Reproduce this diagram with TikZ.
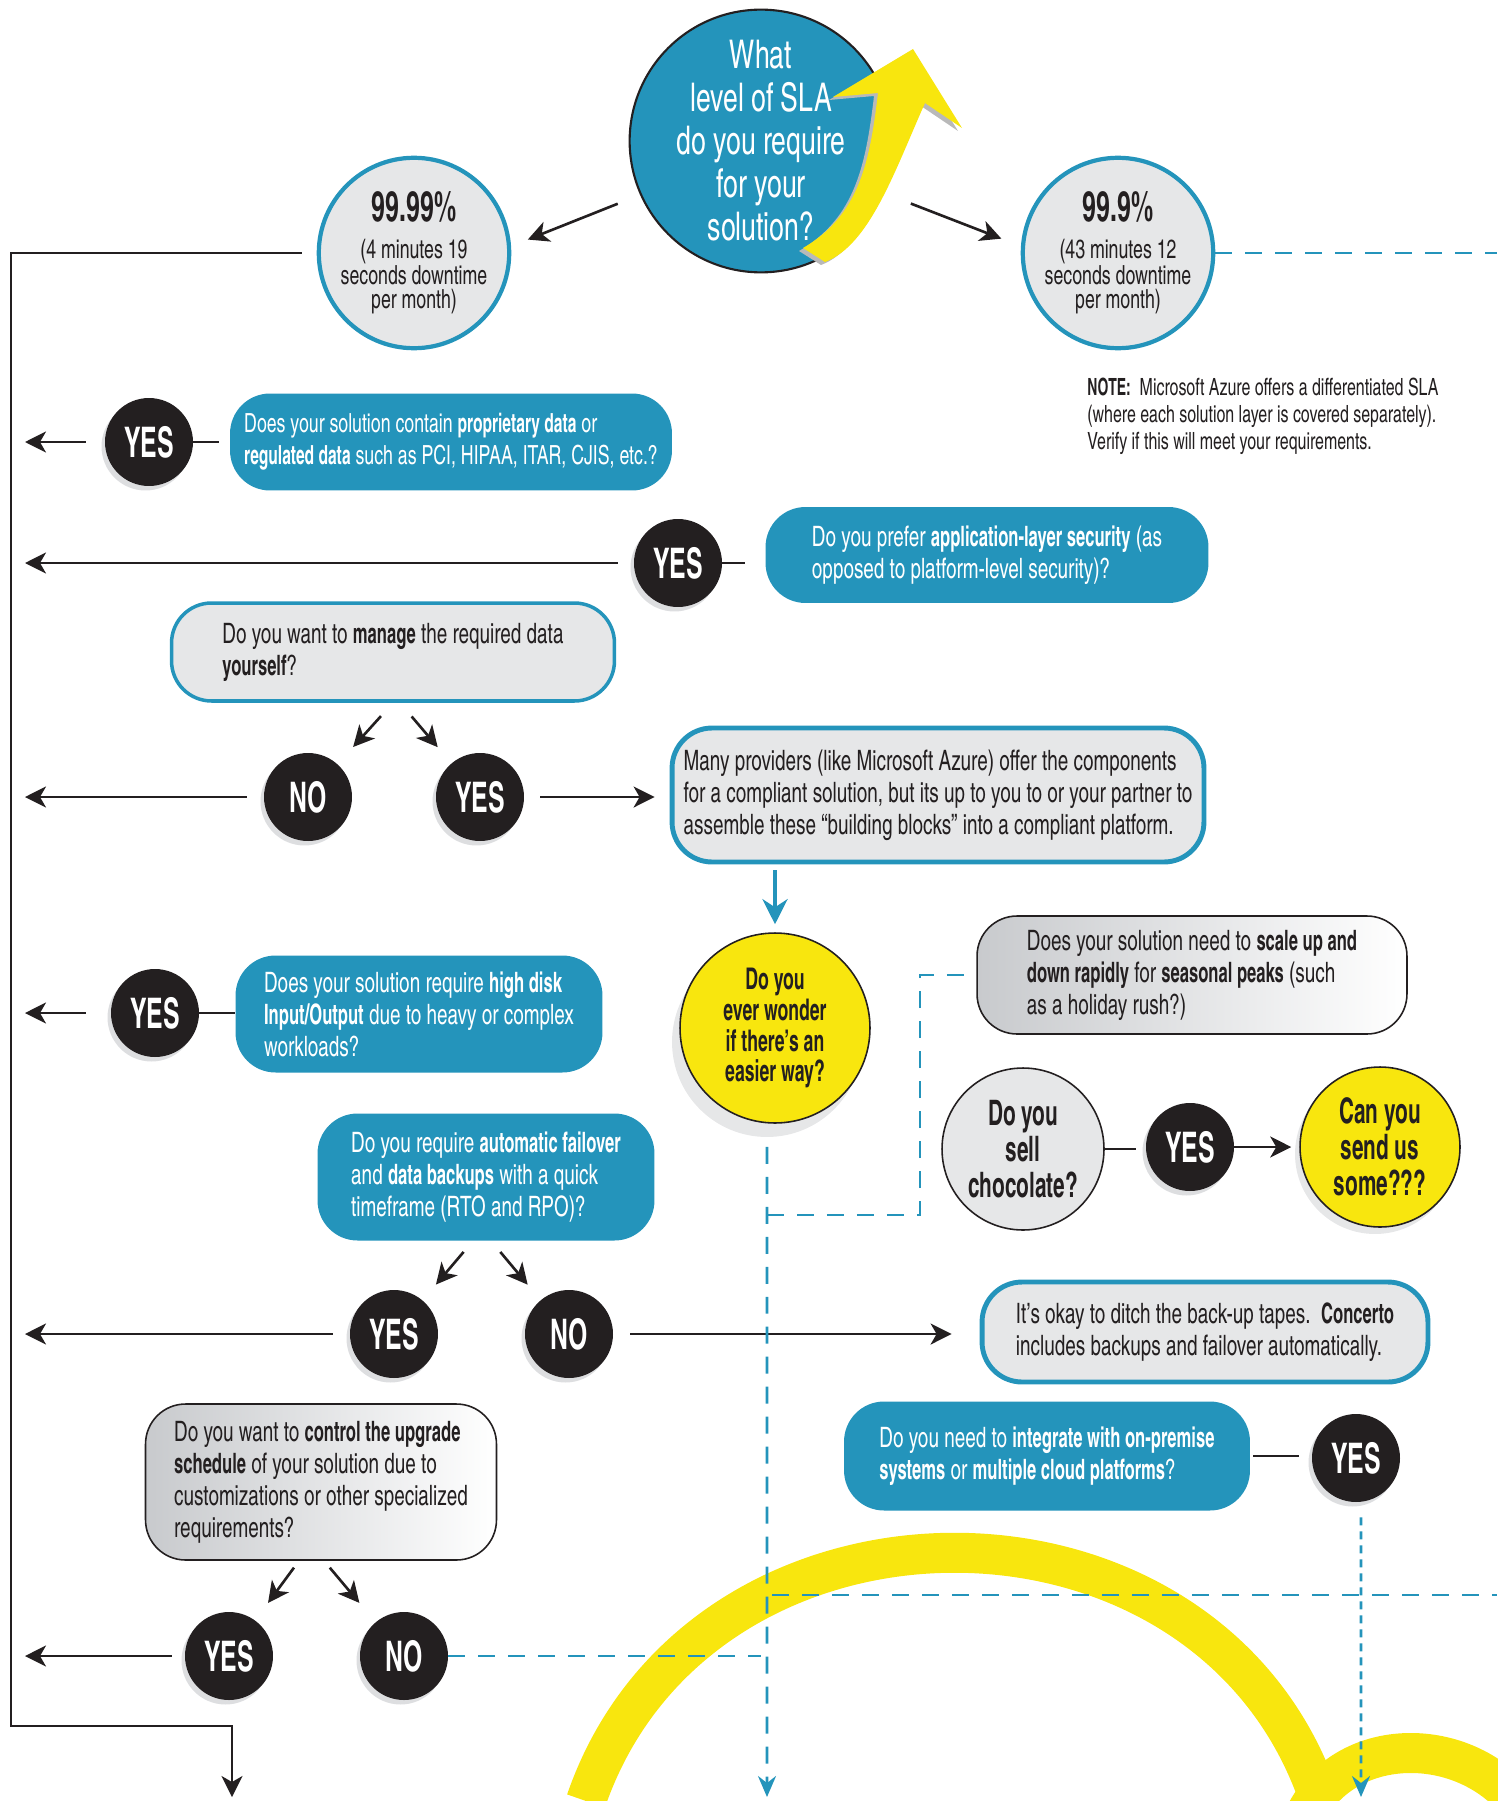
\documentclass[tikz,border=0pt]{standalone}
\usepackage{fontspec}
\setmainfont{texgyreheroscn}[Extension=.otf, UprightFont=*-regular, BoldFont=*-bold, ItalicFont=*-italic, BoldItalicFont=*-bolditalic,
  UprightFeatures={FakeStretch=0.82}, BoldFeatures={FakeStretch=0.72}]
\newfontfamily\dispfont{texgyreheroscn}[Extension=.otf, UprightFont=*-regular, BoldFont=*-bold, FakeStretch=0.72]
\usetikzlibrary{arrows.meta,shadows,calc}
\definecolor{cblue}{RGB}{36,148,187}
\definecolor{ink}{RGB}{35,31,32}
\definecolor{paper}{RGB}{230,231,232}
\definecolor{shade}{RGB}{221,222,224}
\definecolor{sun}{RGB}{248,230,14}
\definecolor{fog}{RGB}{200,202,205}
\tikzset{
  conn/.style={draw=ink, line width=1.5pt, -{Stealth[length=0.42cm, width=0.42cm, inset=0.12cm]}},
  stub/.style={draw=ink, line width=1.5pt},
  bluedash/.style={draw=cblue, line width=1.6pt, dash pattern=on 0.34cm off 0.26cm},
  bluedot/.style={draw=cblue, line width=1.6pt, dash pattern=on 0.16cm off 0.12cm},
  bluetip/.style={-{Stealth[length=0.42cm, width=0.36cm, inset=0.14cm]}},
  ansyes/.style={circle, fill=ink, text=white, minimum size=1.76cm, inner sep=0pt,
    font=\dispfont\fontsize{24}{24}\selectfont\bfseries,
    drop shadow={shadow xshift=-0.07cm, shadow yshift=-0.09cm, fill=shade, opacity=1}},
  qbox/.style={rounded corners=0.8cm, align=left, inner sep=0pt, font=\fontsize{16}{18.2}\selectfont},
  bluebox/.style={qbox, fill=cblue, text=white},
  ringbox/.style={qbox, fill=paper, draw=cblue, line width=2.6pt, text=ink},
  fadebox/.style={qbox, left color=fog, right color=white, draw=ink, line width=0.9pt, text=ink},
  slacircle/.style={circle, fill=paper, draw=cblue, line width=2.4pt, minimum size=3.8cm, inner sep=0pt,
    align=center, text=ink, font=\fontsize{15}{13.8}\selectfont},
  sunny/.style={circle, fill=sun, draw=ink, line width=0.9pt, align=center, inner sep=0pt, text=ink},
}
\begin{document}
\begin{tikzpicture}[x=0.02cm, y=-0.02cm]
\useasboundingbox (0,0) rectangle (1497,1801);
% yellow arches in the back
\draw[sun, line width=0.8cm] (586,1801) .. controls (700,1470) and (1210,1470) .. (1320,1801);
\draw[sun, line width=0.8cm] (1305,1815) .. controls (1345,1735) and (1460,1735) .. (1515,1800);

% top question
\node[circle, fill=cblue, draw=ink, line width=1.2pt, minimum size=5.2cm, inner sep=0pt, align=center,
  text=white, font=\fontsize{22.5}{24.5}\selectfont] (sla) at (761,141)
  {What\\ level of SLA\\ do you require\\ for your\\ solution?};
\fill[gray!55, xshift=-0.08cm, yshift=-0.06cm] (913,49) -- (833,97) -- (878,93) .. controls (870,160) and (860,215) .. (803,248)
  -- (825,262) .. controls (870,245) and (895,170) .. (925,103) -- (962,128) -- cycle;
\fill[sun] (913,49) -- (833,97) -- (878,93) .. controls (870,160) and (860,215) .. (803,248)
  -- (825,262) .. controls (870,245) and (895,170) .. (925,103) -- (962,128) -- cycle;

\node[slacircle] (c9999) at (414,253) {{\fontsize{24}{24}\selectfont\bfseries 99.99\%}\\[7pt] (4 minutes 19\\ seconds downtime\\ per month)};
\node[slacircle] (c999) at (1118,253) {{\fontsize{24}{24}\selectfont\bfseries 99.9\%}\\[7pt] (43 minutes 12\\ seconds downtime\\ per month)};
\node[anchor=north west, align=left, inner sep=0pt, text=ink, font=\fontsize{13.5}{15.3}\selectfont] (note) at (1087,378)
  {\textbf{NOTE:}\ \ Microsoft Azure offers a differentiated SLA\\ (where each solution layer is covered separately).\\ Verify if this will meet your requirements.};

% questions and answers
\node[ansyes] (yes1) at (149,442) {YES};
\node[bluebox, minimum width=8.84cm, minimum height=1.94cm, font=\fontsize{15}{18.2}\selectfont] (q1) at (451,442)
  {Does your solution contain \textbf{proprietary data} or\\ \textbf{regulated data} such as PCI, HIPAA, ITAR, CJIS, etc.?};
\node[ansyes] (yes2) at (678,563) {YES};
\node[bluebox, minimum width=8.86cm, minimum height=1.92cm] (q2) at (987,555)
  {Do you prefer \textbf{application-layer security} (as\\ opposed to platform-level security)?};
\node[ringbox, line width=2pt, minimum width=8.86cm, minimum height=1.96cm] (q3) at (393,652)
  {Do you want to \textbf{manage} the required data\\ \textbf{yourself}?};
\node[ansyes] (no3) at (308,797) {NO};
\node[ansyes] (yes3) at (480,797) {YES};
\node[ringbox, line width=2.8pt, minimum width=10.64cm, minimum height=2.68cm] (many) at (938,795)
  {Many providers (like Microsoft Azure) offer the components\\ for a compliant solution, but its up to you to or your partner to\\ assemble these “building blocks” into a compliant platform.};
\node[sunny, minimum size=3.8cm, font=\fontsize{17}{17.6}\selectfont\bfseries,
  drop shadow={shadow xshift=-0.16cm, shadow yshift=-0.28cm, fill=paper, opacity=1}] (easy) at (775,1028)
  {Do you\\ ever wonder\\ if there’s an\\ easier way?};
\node[fadebox, minimum width=8.6cm, minimum height=2.36cm] (scale) at (1192,975)
  {Does your solution need to \textbf{scale up and}\\ \textbf{down rapidly} for \textbf{seasonal peaks} (such\\ as a holiday rush?)};
\node[circle, fill=paper, draw=ink, line width=0.9pt, minimum size=3.24cm, inner sep=0pt, align=center, text=ink,
  font=\dispfont\fontsize{20}{20.5}\selectfont\bfseries] (choc) at (1023,1149) {Do you\\ sell\\ chocolate?};
\node[ansyes] (yes6) at (1190,1147) {YES};
\node[sunny, minimum size=3.2cm, font=\dispfont\fontsize{20}{20.5}\selectfont\bfseries,
  drop shadow={shadow xshift=-0.1cm, shadow yshift=-0.14cm, fill=paper, opacity=1}] (can) at (1380,1147)
  {Can you\\ send us\\ some???};
\node[ansyes] (yes4) at (155,1013) {YES};
\node[bluebox, minimum width=7.34cm, minimum height=2.34cm] (q6) at (419,1014)
  {Does your solution require \textbf{high disk}\\ \textbf{Input/Output} due to heavy or complex\\ workloads?};
\node[bluebox, minimum width=6.74cm, minimum height=2.54cm] (q7) at (486,1177)
  {Do you require \textbf{automatic failover}\\ and \textbf{data backups} with a quick\\ timeframe (RTO and RPO)?};
\node[ansyes] (yes5) at (394,1334) {YES};
\node[ansyes] (no5) at (569,1334) {NO};
\node[ringbox, line width=2.8pt, minimum width=8.92cm, minimum height=2cm] (ditch) at (1205,1332)
  {It’s okay to ditch the back-up tapes.\ \ \textbf{Concerto}\\ includes backups and failover automatically.};
\node[bluebox, minimum width=8.12cm, minimum height=2.18cm] (q9) at (1047,1456)
  {Do you need to \textbf{integrate with on-premise}\\ \textbf{systems} or \textbf{multiple cloud platforms}?};
\node[ansyes] (yes7) at (1356,1458) {YES};
\node[fadebox, minimum width=7.02cm, minimum height=3.12cm] (q10) at (321,1482)
  {Do you want to \textbf{control the upgrade}\\ \textbf{schedule} of your solution due to\\ customizations or other specialized\\ requirements?};
\node[ansyes] (yes8) at (229,1656) {YES};
\node[ansyes] (no8) at (404,1656) {NO};

\coordinate (tipl) at (25,0);
\coordinate (bustop) at (11,253);
\coordinate (busbot) at (11,1726);
\coordinate (busend) at (232,1797);
\coordinate (redge) at (1497,0);
\coordinate (dvend) at (767,1797);
\coordinate (branch) at (767,1215);
\coordinate (kink) at (920,975);
\coordinate (cross) at (767,1595);
\coordinate (dv2end) at (1361,1797);

% connectors
\draw[conn, shorten <=0.48cm, shorten >=0.36cm] (sla.204) -- (c9999.4);
\draw[conn, shorten <=0.6cm, shorten >=0.42cm] (sla.337) -- (c999.176);
\draw[conn, shorten <=0.3cm] (c9999.west) -- (bustop) -- (busbot) -| (busend);
\draw[bluedash] (c999.east) -- (c999.east -| redge);

\draw[conn, shorten <=0.38cm] (yes1.west) -- (yes1 -| tipl);
\draw[stub, shorten >=0.22cm] (yes1.east) -- (yes1 -| q1.west);
\draw[conn, shorten <=0.32cm] (yes2.west) -- (yes2 -| tipl);
\draw[stub, shorten >=0.4cm] (yes2.east) -- (yes2 -| q2.west);
\draw[conn, shorten <=0.36cm, shorten >=0.46cm] (q3.south) -- (no3);
\draw[conn, shorten <=0.36cm, shorten >=0.42cm] ([xshift=0.14cm]q3.south) -- (yes3);
\draw[conn, shorten <=0.34cm] (no3.west) -- (no3 -| tipl);
\draw[conn, shorten <=0.32cm, shorten >=0.3cm] (yes3.east) -- (yes3 -| many.west);
\draw[draw=cblue, line width=2.6pt, -{Stealth[length=0.5cm, width=0.5cm, inset=0.16cm]},
  shorten <=0.12cm, shorten >=0.16cm] (many.south -| easy) -- (easy.north);

\draw[conn, shorten <=0.5cm] (yes4.west) -- (yes4 -| tipl);
\draw[stub] (yes4.east) -- (yes4 -| q6.west);
\draw[conn, shorten <=0.29cm, shorten >=0.41cm] ([xshift=-0.26cm]q7.south) -- (yes5);
\draw[conn, shorten <=0.29cm, shorten >=0.4cm] ([xshift=0.1cm]q7.south) -- (no5);
\draw[conn, shorten <=0.34cm] (yes5.west) -- (yes5 -| tipl);
\draw[conn, shorten <=0.34cm, shorten >=0.56cm] (no5.east) -- (no5 -| ditch.west);

\draw[conn, shorten <=0.17cm, shorten >=0.43cm] ([xshift=-0.44cm]q10.south) -- (yes8);
\draw[conn, shorten <=0.18cm, shorten >=0.5cm] ([xshift=0.06cm]q10.south) -- (no8);
\draw[conn, shorten <=0.26cm] (yes8.west) -- (yes8 -| tipl);
\draw[bluedash, shorten >=0.12cm] (no8.east) -- (no8 -| dvend);

\draw[stub, shorten >=0.2cm] (choc.east) -- (choc.east -| yes6.west);
\draw[conn, shorten >=0.16cm] (yes6.east) -- (yes6.east -| can.west);
\draw[stub, shorten <=0.06cm, shorten >=0.26cm] (q9.east) -- (q9.east -| yes7.west);
\draw[bluedot, bluetip, shorten <=0.3cm] ([xshift=0.1cm]yes7.south) -- (dv2end);

\draw[bluedash, bluetip, shorten <=0.46cm] ([xshift=-0.16cm]easy.south) -- (dvend);
\draw[bluedash] (branch) -| (kink) -- (scale.west);
\draw[bluedash, shorten <=0.1cm] (cross) -- (cross -| redge);
\end{tikzpicture}
\end{document}
